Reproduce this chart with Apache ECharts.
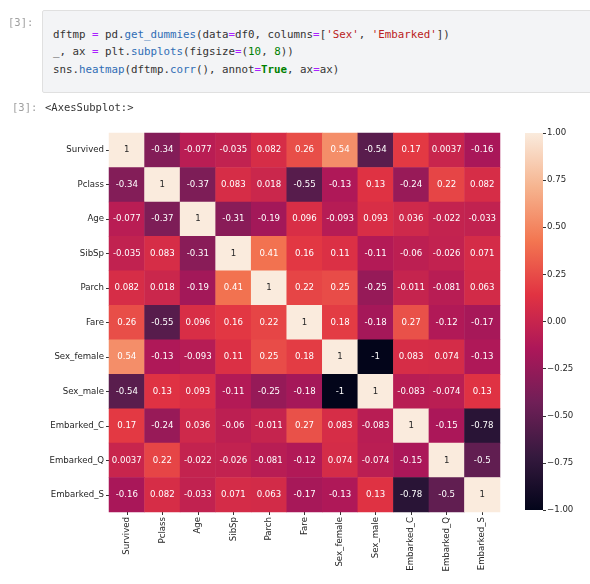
<!DOCTYPE html>
<html>
<head>
<meta charset="utf-8">
<script src="https://cdn.jsdelivr.net/npm/echarts@6/dist/echarts.min.js"></script>
<style>
html,body{margin:0;padding:0;width:590px;height:584px;background:#fff;overflow:hidden;}
#chart{position:absolute;left:0;top:0;width:590px;height:584px;}
.prompt{position:absolute;font-family:"DejaVu Sans Mono",monospace;font-size:10.5px;color:#9e9e9e;}
#codebox{position:absolute;left:42px;top:10px;width:560px;height:81px;background:#f3f4f6;border:1px solid #e0e0e0;border-radius:2px;}
#code{position:absolute;left:53px;top:26px;font-family:"DejaVu Sans Mono",monospace;font-size:10.8px;line-height:17.4px;color:#333;white-space:pre;margin:0;}
.o{color:#aa22ff;} .s{color:#ba2121;} .p{color:#2f6db5;} .n{color:#008000;} .k{color:#008000;font-weight:bold;}
#out{position:absolute;left:45px;top:101px;font-family:"DejaVu Sans Mono",monospace;font-size:10.5px;color:#333;}
</style>
</head>
<body>
<div id="chart"></div>
<div class="prompt" style="left:8px;top:16px;">[3]:</div>
<div id="codebox"></div>
<pre id="code">dftmp <span class="o">=</span> pd.<span class="p">get_dummies</span>(data<span class="o">=</span>df0, columns<span class="o">=</span>[<span class="s">'Sex'</span>, <span class="s">'Embarked'</span>])
_, ax <span class="o">=</span> plt.<span class="p">subplots</span>(figsize<span class="o">=</span>(<span class="n">10</span>, <span class="n">8</span>))
sns.<span class="p">heatmap</span>(dftmp.<span class="p">corr</span>(), annot<span class="o">=</span><span class="k">True</span>, ax<span class="o">=</span>ax)</pre>
<div class="prompt" style="left:12px;top:101px;">[3]:</div>
<div id="out">&lt;AxesSubplot:&gt;</div>
<script>
var categories = ['Survived','Pclass','Age','SibSp','Parch','Fare','Sex_female','Sex_male','Embarked_C','Embarked_Q','Embarked_S'];
var rowSurvived  = [1, -0.34, -0.077, -0.035, 0.082, 0.26, 0.54, -0.54, 0.17, 0.0037, -0.16];
var rowPclass    = [-0.34, 1, -0.37, 0.083, 0.018, -0.55, -0.13, 0.13, -0.24, 0.22, 0.082];
var rowAge       = [-0.077, -0.37, 1, -0.31, -0.19, 0.096, -0.093, 0.093, 0.036, -0.022, -0.033];
var rowSibSp     = [-0.035, 0.083, -0.31, 1, 0.41, 0.16, 0.11, -0.11, -0.06, -0.026, 0.071];
var rowParch     = [0.082, 0.018, -0.19, 0.41, 1, 0.22, 0.25, -0.25, -0.011, -0.081, 0.063];
var rowFare      = [0.26, -0.55, 0.096, 0.16, 0.22, 1, 0.18, -0.18, 0.27, -0.12, -0.17];
var rowSexFemale = [0.54, -0.13, -0.093, 0.11, 0.25, 0.18, 1, -1, 0.083, 0.074, -0.13];
var rowSexMale   = [-0.54, 0.13, 0.093, -0.11, -0.25, -0.18, -1, 1, -0.083, -0.074, 0.13];
var rowEmbC      = [0.17, -0.24, 0.036, -0.06, -0.011, 0.27, 0.083, -0.083, 1, -0.15, -0.78];
var rowEmbQ      = [0.0037, 0.22, -0.022, -0.026, -0.081, -0.12, 0.074, -0.074, -0.15, 1, -0.5];
var rowEmbS      = [-0.16, 0.082, -0.033, 0.071, 0.063, -0.17, -0.13, 0.13, -0.78, -0.5, 1];
var colorbarTicks = [-1, -0.75, -0.5, -0.25, 0, 0.25, 0.5, 0.75, 1];

var rows = [rowSurvived,rowPclass,rowAge,rowSibSp,rowParch,rowFare,rowSexFemale,rowSexMale,rowEmbC,rowEmbQ,rowEmbS];
var rocket = ['#03051A','#35193E','#701F57','#AD1759','#E13342','#F37651','#F6B48F','#FAEBDD'];

var data = [];
rows.forEach(function(r, yi){
  r.forEach(function(v, xi){
    data.push({value:[xi, yi, v], label:{color: v > 0.62 ? '#262626' : '#ffffff'}});
  });
});
function fmt(v){ return String(Number(v.toPrecision(2))); }

var FONT = 'DejaVu Sans';
var chart = echarts.init(document.getElementById('chart'));
var gradStops = rocket.map(function(c,i){ return {offset: 1 - i/(rocket.length-1), color:c}; });

chart.setOption({
  animation:false,
  textStyle:{fontFamily:FONT},
  grid:[
    {left:109, top:133, width:391, height:379},
    {left:525, top:133, width:18, height:377}
  ],
  xAxis:[
    {type:'category', gridIndex:0, data:categories, position:'bottom',
     axisLine:{show:false}, splitLine:{show:false},
     axisTick:{show:true, alignWithLabel:true, length:3, lineStyle:{color:'#333'}},
     axisLabel:{rotate:90, fontSize:8.6, color:'#262626', margin:5, fontFamily:FONT, interval:0}},
    {type:'category', gridIndex:1, data:['cb'], show:false}
  ],
  yAxis:[
    {type:'category', gridIndex:0, data:categories, inverse:true,
     axisLine:{show:false}, splitLine:{show:false},
     axisTick:{show:true, alignWithLabel:true, length:3, lineStyle:{color:'#333'}},
     axisLabel:{fontSize:8.6, color:'#262626', margin:5, fontFamily:FONT, interval:0}},
    {type:'value', gridIndex:1, min:-1, max:1, interval:0.25, position:'right',
     axisLine:{show:false}, splitLine:{show:false},
     axisTick:{show:true, length:3, lineStyle:{color:'#333'}},
     axisLabel:{fontSize:8.6, color:'#262626', margin:4, fontFamily:FONT,
       formatter:function(v){ var s=Math.abs(v).toFixed(2); return (v<0?'\u2212':'')+s; }}}
  ],
  visualMap:{type:'continuous', min:-1, max:1, show:false, seriesIndex:0, dimension:2,
    inRange:{color:rocket}},
  series:[
    {type:'heatmap', xAxisIndex:0, yAxisIndex:0, data:data,
     label:{show:true, fontSize:8.6, fontFamily:FONT,
       formatter:function(p){ return fmt(p.value[2]); }},
     itemStyle:{borderWidth:0},
     emphasis:{disabled:true}},
    {type:'custom', xAxisIndex:1, yAxisIndex:1, data:[[0, colorbarTicks[colorbarTicks.length-1]]],
     renderItem:function(params, api){
       var cs = params.coordSys;
       var top = api.coord([0, 1])[1];
       var bot = api.coord([0, -1])[1];
       return {type:'rect', shape:{x:cs.x, y:top, width:cs.width, height:bot-top},
         style:{fill:new echarts.graphic.LinearGradient(0,0,0,1,gradStops)}};
     }}
  ]
});
</script>
</body>
</html>
